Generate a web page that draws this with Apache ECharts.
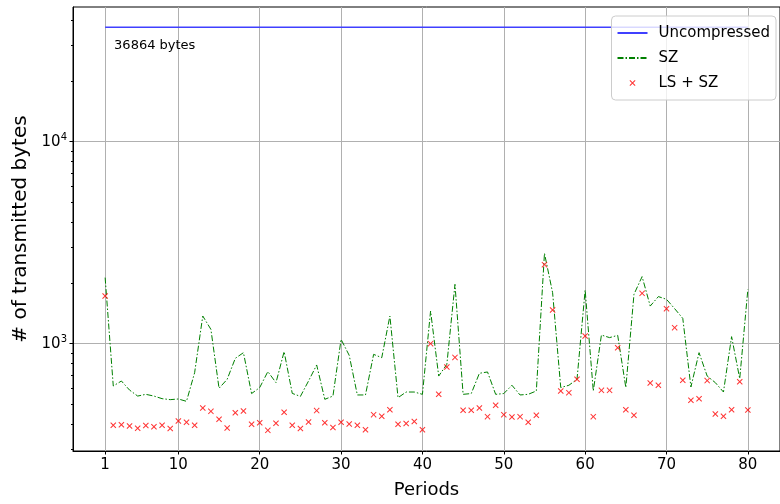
<!DOCTYPE html>
<html>
<head>
<meta charset="utf-8">
<script src="https://cdn.jsdelivr.net/npm/echarts@6/dist/echarts.min.js"></script>
<style>html,body{margin:0;padding:0;background:#fff}#c{width:780px;height:504px}</style>
</head>
<body>
<div id="c"></div>
<script>
const periods = Array.from({length: 80}, (_, i) => i + 1);
const uncompressed = 36864;
const szValues = [2123,617,653,589,550,561,550,534,528,532,518,718,1370,1177,601,666,846,902,566,606,
  727,641,913,567,548,653,784,530,550,1050,875,557,557,885,852,1370,540,576,576,561,
  1450,691,790,1966,561,566,713,724,561,566,622,557,561,583,2800,1788,606,622,666,1842,
  583,1103,1071,1099,606,1754,2147,1535,1710,1657,1490,1334,610,902,691,641,576,1083,671,1857];
const lsszValues = [1720,394,397,391,381,393,388,394,380,414,408,394,480,462,422,382,455,464,399,406,
  372,403,457,394,380,409,466,406,384,408,400,394,375,445,437,471,399,402,412,375,
  1000,561,766,855,468,468,480,435,495,445,433,435,408,442,2461,1467,583,572,666,1090,
  435,587,587,955,471,442,1774,638,622,1490,1200,658,524,534,656,448,437,471,648,469];
const xTicks = [1,10,20,30,40,50,60,70,80];
const yTicks = [1000, 10000];
const yMinorTicks = [300,400,500,600,700,800,900,2000,3000,4000,5000,6000,7000,8000,9000,20000,30000,40000];
const xMin = -2.95, xMax = 83.95, yMin = 294, yMax = 46450;
const annotationText = '36864 bytes';
const annotationAt = [2.1, 30000];

const F = 'DejaVu Sans';
const xCross = 'path://M0,1.2L1.2,0L5,3.8L8.8,0L10,1.2L6.2,5L10,8.8L8.8,10L5,6.2L1.2,10L0,8.8L3.8,5Z';
const hidden = {color: 'rgba(0,0,0,0)', borderWidth: 0, opacity: 0};

const chart = echarts.init(document.getElementById('c'), null, {renderer: 'canvas'});
chart.setOption({
  animation: false,
  backgroundColor: '#fff',
  textStyle: {fontFamily: F},
  grid: {left: 73, top: 7, width: 710.5, height: 445, show: true, borderColor: '#000', borderWidth: 1, backgroundColor: 'transparent'},
  legend: {
    orient: 'vertical', right: 4, top: 16,
    itemWidth: 30, itemHeight: 6, itemGap: 9,
    padding: [9, 6, 9, 5],
    backgroundColor: 'rgba(255,255,255,0.8)', borderColor: '#cccccc', borderWidth: 1, borderRadius: 4,
    textStyle: {fontFamily: F, fontSize: 15, color: '#000', lineHeight: 16, padding: [0, 0, 0, 6]},
    data: [
      {name: 'Uncompressed', itemStyle: hidden},
      {name: 'SZ', itemStyle: hidden},
      {name: 'LS + SZ', icon: xCross, itemStyle: {color: '#ff0000'}}
    ]
  },
  xAxis: {
    type: 'value', min: xMin, max: xMax,
    name: 'Periods', nameLocation: 'middle', nameGap: 30,
    nameTextStyle: {fontFamily: F, fontSize: 18, color: '#000'},
    axisLine: {show: true, onZero: false, lineStyle: {color: '#000', width: 1}},
    axisTick: {show: true, length: 3.5, lineStyle: {color: '#000'}, customValues: xTicks},
    axisLabel: {fontFamily: F, fontSize: 15, color: '#000', margin: 7, customValues: xTicks},
    splitLine: {show: true, lineStyle: {color: '#b0b0b0', width: 1}}
  },
  yAxis: {
    type: 'log', logBase: 10, min: yMin, max: yMax,
    name: '# of transmitted bytes', nameLocation: 'middle', nameGap: 37, nameRotate: 90,
    nameTextStyle: {fontFamily: F, fontSize: 20, color: '#000'},
    axisLine: {show: true, onZero: false, lineStyle: {color: '#000', width: 1}},
    axisTick: {show: true, length: 3.5, lineStyle: {color: '#000'}, customValues: yTicks},
    axisLabel: {
      fontFamily: F, fontSize: 15, color: '#000', margin: 6, customValues: yTicks,
      formatter: v => '10{s|' + Math.round(Math.log10(v)) + '}',
      rich: {s: {fontFamily: F, fontSize: 10, verticalAlign: 'top', padding: [0, 0, 8, 0], color: '#000'}}
    },
    splitLine: {show: true, lineStyle: {color: '#b0b0b0', width: 1}}
  },
  series: [
    {
      name: 'Uncompressed', type: 'line', showSymbol: false, symbol: 'none',
      data: periods.map(p => [p, uncompressed]),
      lineStyle: {color: '#4040ff', width: 1.6}, itemStyle: {color: '#4040ff'}, z: 3,
      markPoint: {
        symbol: 'circle', symbolSize: 0, silent: true,
        data: [{coord: annotationAt, value: annotationText}],
        label: {show: true, position: 'inside', align: 'left', verticalAlign: 'middle',
          formatter: annotationText, fontFamily: F, fontSize: 13, color: '#000'}
      }
    },
    {
      name: 'SZ', type: 'line', showSymbol: false, symbol: 'none',
      data: periods.map((p, i) => [p, szValues[i]]),
      lineStyle: {color: '#008000', width: 1, type: [6, 2, 1.5, 2]}, itemStyle: {color: '#008000'}, z: 4
    },
    {
      name: 'LS + SZ', type: 'scatter', symbol: xCross, symbolSize: 6,
      data: periods.map((p, i) => [p, lsszValues[i]]),
      itemStyle: {color: '#ff0000'}, z: 5
    },
    {
      type: 'custom', silent: true, clip: false, z: 10,
      coordinateSystem: 'cartesian2d',
      encode: {x: 0, y: 1},
      data: yMinorTicks.map(v => [xMin, v]),
      renderItem: (params, api) => {
        const p = api.coord([api.value(0), api.value(1)]);
        return {type: 'rect', shape: {x: p[0] - 2, y: Math.round(p[1]), width: 2, height: 1},
          style: {fill: '#000'}};
      }
    }
  ]
});
</script>
</body>
</html>
